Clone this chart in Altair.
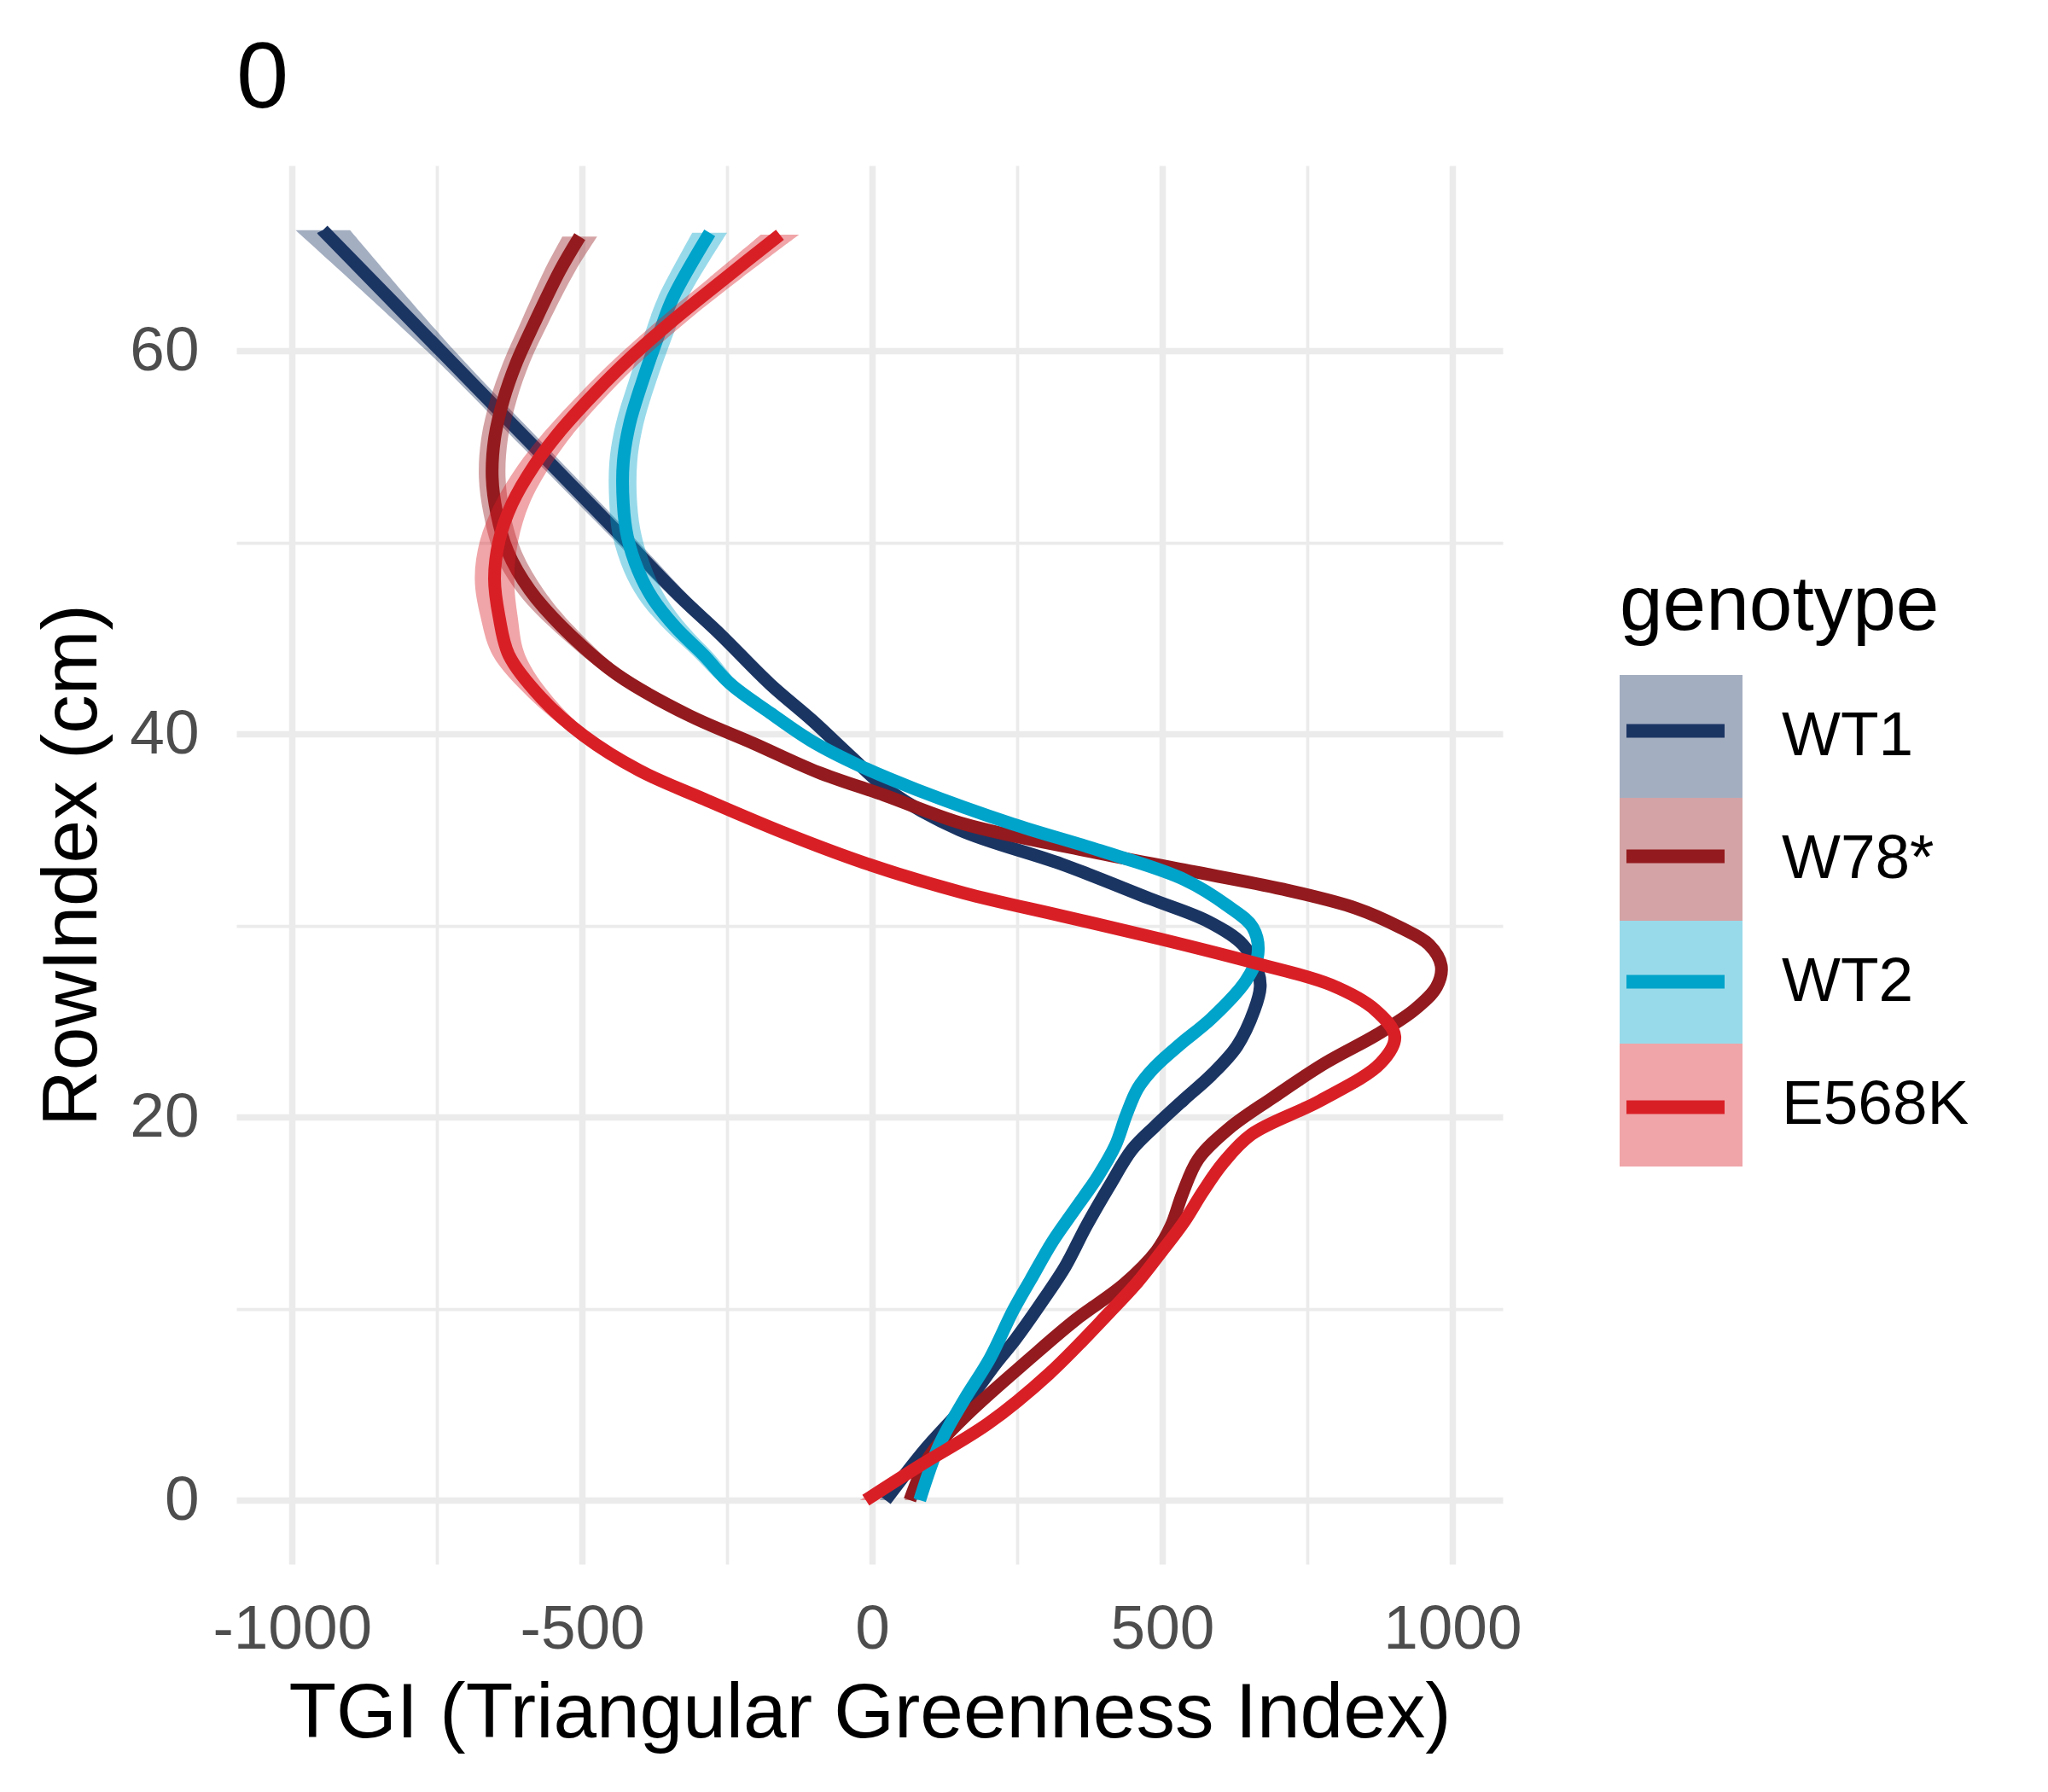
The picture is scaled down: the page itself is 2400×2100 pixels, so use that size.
import altair as alt
import pandas as pd

FONT = "Liberation Sans"

genotypes = ["WT1", "W78*", "WT2", "E568K"]
line_colors = ["#1B3563", "#931A1E", "#00A3CA", "#D91F26"]

x_ticks = [-1000, -750, -500, -250, 0, 250, 500, 750, 1000]
y_ticks = [0, 10, 20, 30, 40, 50, 60]

# WT1
wt1_y = [0, 2.6, 4.9, 7.2, 8.4, 10.5, 12.2, 14.3, 16.4, 18.3, 19.5, 20.9, 22.2, 23.7, 25.6, 26.8,
         27.6, 29.0, 30.2, 31.4, 33.2, 35.0, 37.0, 38.8, 40.7, 42.6, 45.2, 47.1, 50, 55, 60, 66.3]
wt1_tgi = [23, 90, 158, 215, 247, 296, 333, 369, 409, 448, 487, 537, 585, 629, 659, 669,
           665, 639, 580, 479, 327, 150, 31, -36, -103, -176, -262, -329, -422, -583, -744, -947]
wt1_se = [10, 8, 8, 8, 8, 8, 8, 8, 8, 8, 8, 8, 8, 8, 8, 8,
          8, 8, 8, 8, 8, 8, 8, 8, 9, 11, 14, 16, 19, 21, 24, 47]

# W78*
w78_y = [0, 2.3, 4.3, 7.5, 9.4, 11.3, 13.0, 14.3, 16.0, 17.8, 19.4, 21.0, 22.8, 24.3, 25.6,
         26.8, 27.9, 29.0, 29.9, 30.9, 31.9, 32.9, 33.9, 35.3, 36.8, 38.0, 39.5, 41.0, 43.1,
         45.6, 47.5, 49.5, 51.5, 53.4, 55.4, 57.4, 59.4, 61.4, 64.2, 65.96]
w78_tgi = [65, 99, 158, 276, 350, 435, 490, 515, 535, 562, 615, 690, 780, 870, 935,
           973, 981, 960, 910, 834, 707, 538, 369, 158, 21, -93, -204, -318, -440,
           -535, -590, -628, -647, -655, -651, -636, -613, -583, -538, -504]
w78_se = [9, 8, 8, 8, 8, 8, 8, 8, 8, 8, 8, 8, 8, 8, 8,
          8, 8, 8, 8, 8, 8, 8, 8, 8, 8, 8, 10, 13, 16,
          21, 24, 24, 23, 23, 23, 23, 23, 24, 27, 30]

# WT2
wt2_y = [0, 2.9, 5.2, 7.4, 9.9, 11.5, 13.5, 15.2, 16.9, 18.5, 20.1, 21.5, 22.6, 23.8, 25.15,
         27.1, 28.5, 29.9, 31.0, 32.4, 33.9, 35.3, 37.1, 38.3, 39.6, 41.1, 42.6, 44.1, 45.6,
         47.1, 48.5, 50.3, 52.0, 54.2, 56.2, 58.4, 61.0, 62.8, 66.16]
wt2_tgi = [82, 116, 158, 203, 243, 273, 311, 350, 389, 419, 438, 458, 487, 531, 585,
           644, 665, 656, 614, 538, 394, 242, 76, -19, -103, -176, -244, -290, -340,
           -379, -403, -422, -429, -429, -418, -396, -366, -343, -280]
wt2_se = [9, 8, 8, 8, 8, 8, 8, 8, 8, 8, 8, 8, 8, 8, 8,
          8, 8, 8, 8, 8, 8, 8, 8, 8, 10, 12, 15, 19, 22,
          24, 25, 25, 24, 24, 24, 24, 25, 26, 30]

# E568K
e568k_y = [0, 1.8, 4.0, 6.6, 9.8, 11.4, 12.9, 14.5, 16.1, 17.6, 19.1, 20.85, 22.8, 24.2,
           25.6, 26.9, 28.0, 29.3, 30.5, 31.7, 33.2, 34.8, 36.6, 38.1, 39.9, 41.9, 44.1, 46.1,
           48.1, 50.1, 52.0, 54.0, 55.8, 57.8, 59.6, 61.6, 63.8, 66.06]
e568k_tgi = [-11, 82, 200, 305, 409, 458, 497, 537, 570, 605, 654, 772, 876, 901,
             867, 791, 665, 496, 327, 158, -7, -149, -290, -402, -497, -571, -626, -643,
             -651, -643, -621, -583, -538, -478, -418, -343, -253, -159]
e568k_se = [10, 8, 8, 8, 8, 8, 8, 8, 8, 8, 8, 8, 8, 8,
            8, 8, 8, 8, 8, 8, 8, 8, 9, 11, 15, 21, 28, 32,
            34, 33, 30, 28, 26, 25, 25, 26, 28, 33]

series = {
    "WT1": (wt1_y, wt1_tgi, wt1_se),
    "W78*": (w78_y, w78_tgi, w78_se),
    "WT2": (wt2_y, wt2_tgi, wt2_se),
    "E568K": (e568k_y, e568k_tgi, e568k_se),
}

frames = []
for g in genotypes:
    ys, ts, ss = series[g]
    d = pd.DataFrame({"y": ys, "tgi": ts, "se": ss})
    d["lo"] = d["tgi"] - d["se"]
    d["hi"] = d["tgi"] + d["se"]
    d["genotype"] = g
    d["linekey"] = g + " "
    frames.append(d)
df = pd.concat(frames, ignore_index=True)

xscale = alt.Scale(domain=[-1096, 1087], nice=False, zero=False)
yscale = alt.Scale(domain=[-3.34, 69.67], nice=False, zero=False)

grid_x = {"condition": {"test": "datum.value % 500 === 0", "value": 7.5}, "value": 3.75}
grid_y = {"condition": {"test": "datum.value % 20 === 0", "value": 7.5}, "value": 3.75}

xaxis = alt.Axis(
    title="TGI (Triangular Greenness Index)",
    values=x_ticks,
    labelExpr="datum.value % 500 === 0 ? toString(datum.value) : ''",
    gridWidth=grid_x,
    labelPadding=40,
    titlePadding=17,
)
yaxis = alt.Axis(
    title="RowIndex (cm)",
    values=y_ticks,
    labelExpr="datum.value % 20 === 0 ? toString(datum.value) : ''",
    gridWidth=grid_y,
    labelPadding=44,
    titlePadding=20,
)

fill_scale = alt.Scale(domain=genotypes, range=line_colors)
stroke_scale = alt.Scale(domain=[g + " " for g in genotypes], range=line_colors)

fill_legend = alt.Legend(
    title="genotype", orient="none", legendX=1621, legendY=472,
    symbolType="square", symbolSize=20736, symbolOpacity=0.4, symbolStrokeWidth=0,
    rowPadding=0, padding=0, labelFontSize=73, labelFont=FONT, labelColor="black",
    labelOffset=46, labelLimit=500, titleFontSize=91, titleFont=FONT, titleColor="black",
    titleFontWeight="normal", titlePadding=34, titleLimit=800,
)
stroke_legend = alt.Legend(
    title=" ", orient="none", legendX=1621, legendY=472,
    symbolType="stroke", symbolSize=13225, symbolStrokeWidth=16,
    rowPadding=44, padding=0, labelFontSize=73, labelFont=FONT, labelColor="black",
    labelOffset=46, labelLimit=500, labelExpr="''", titleFontSize=91,
    titleFont=FONT, titleColor="black", titleFontWeight="normal", titlePadding=34,
    titleLimit=800,
)

layers = []
for g in genotypes:
    base = alt.Chart(df).transform_filter(alt.datum.genotype == g)
    area = base.mark_area(orient="horizontal", interpolate="catmull-rom", opacity=0.4).encode(
        y=alt.Y("y:Q", scale=yscale, axis=yaxis),
        x=alt.X("lo:Q", scale=xscale, axis=xaxis),
        x2="hi:Q",
        fill=alt.Fill("genotype:N", scale=fill_scale, legend=fill_legend),
    )
    line = base.mark_line(interpolate="catmull-rom", strokeWidth=15, strokeJoin="round").encode(
        y=alt.Y("y:Q", scale=yscale, axis=yaxis),
        x=alt.X("tgi:Q", scale=xscale, axis=xaxis),
        stroke=alt.Stroke("linekey:N", scale=stroke_scale, legend=stroke_legend),
        order=alt.Order("y:Q"),
    )
    layers += [area, line]

chart = alt.layer(*layers).properties(
    width=1484,
    height=1639,
    title=alt.TitleParams(text="0", anchor="start", frame="group", fontSize=110,
                          font=FONT, color="black", fontWeight="normal", offset=45),
    autosize=alt.AutoSizeParams(type="none"),
    padding={"left": 269, "top": 186, "right": 620, "bottom": 250},
    background="white",
).configure_axis(
    domain=False,
    ticks=False,
    tickSize=0,
    gridColor="#EBEBEB",
    labelFont=FONT,
    labelFontSize=73,
    labelColor="#4D4D4D",
    labelFlush=False,
    labelOverlap=False,
    labelLimit=500,
    titleFont=FONT,
    titleFontSize=91,
    titleColor="black",
    titleFontWeight="normal",
).configure_view(strokeWidth=0)

chart.save("out.html", embed_options={"renderer": "svg", "actions": False})
